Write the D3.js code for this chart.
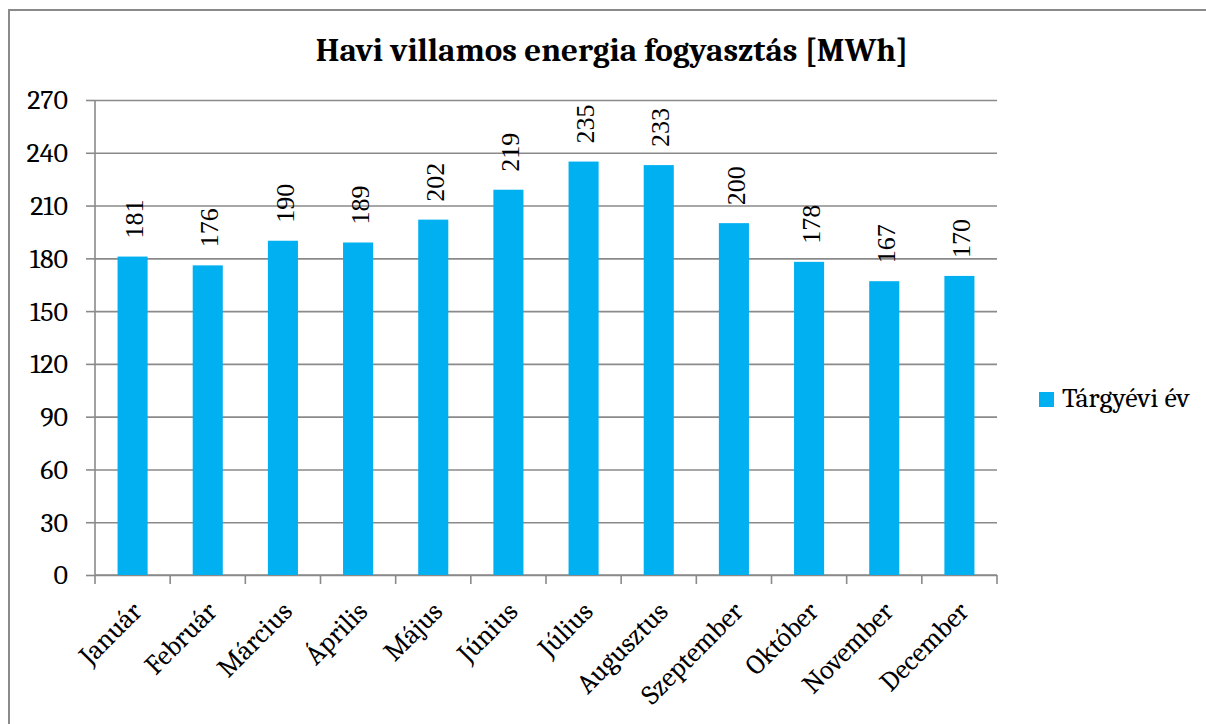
<!DOCTYPE html>
<html>
<head>
<meta charset="utf-8">
<script src="https://cdn.jsdelivr.net/npm/d3@7"></script>
<style>
  body { margin: 0; background: #fff; }
  svg { display: block; }
</style>
</head>
<body>
<div id="chart"></div>
<script>
// Adatok
const months = ["Január", "Február", "Március", "Április", "Május", "Június",
    "Július", "Augusztus", "Szeptember", "Október", "November", "December"];
const consumption = [181, 176, 190, 189, 202, 219, 235, 233, 200, 178, 167, 170];
const yTicks = [0, 30, 60, 90, 120, 150, 180, 210, 240, 270];
const seriesName = "Tárgyévi év";
const chartTitle = "Havi villamos energia fogyasztás [MWh]";

const width = 1206, height = 724;
const margin = {top: 100, right: 209, bottom: 149, left: 95};
const innerWidth = width - margin.left - margin.right;
const innerHeight = height - margin.top - margin.bottom;
const serif = "Cambria, 'Liberation Serif', 'DejaVu Serif', serif";
const gridColor = "#8a8a8a";

const svg = d3.select("#chart")
    .append("svg")
    .attr("width", width)
    .attr("height", height);

// keret
svg.append("rect")
    .attr("x", 9).attr("y", 10)
    .attr("width", width + 10).attr("height", height + 10)
    .attr("fill", "none")
    .attr("stroke", gridColor)
    .attr("stroke-width", 2);

svg.append("text")
    .attr("x", 612).attr("y", 61)
    .attr("text-anchor", "middle")
    .style("font-family", serif)
    .style("font-weight", "bold")
    .style("font-size", "33px")
    .attr("fill", "#000")
    .text(chartTitle);

const g = svg.append("g")
    .attr("transform", `translate(${margin.left},${margin.top})`);

const x = d3.scaleBand().domain(months).range([0, innerWidth]).paddingInner(0.6).paddingOuter(0.3);
const y = d3.scaleLinear().domain([0, 270]).range([innerHeight, 0]);

// rácsvonalak
g.append("g")
    .call(d3.axisLeft(y).tickValues(yTicks).tickSize(-innerWidth).tickFormat(""))
    .call(a => a.select(".domain").remove())
    .call(a => a.selectAll("line").attr("stroke", gridColor).attr("stroke-width", 1.6));

// y tengely
const yAxis = g.append("g")
    .call(d3.axisLeft(y).tickValues(yTicks).tickSize(9).tickPadding(18));
yAxis.select(".domain").attr("stroke", gridColor).attr("stroke-width", 1.6).attr("d", `M0,0V${innerHeight}`);
yAxis.selectAll("line").attr("stroke", gridColor).attr("stroke-width", 1.6);
yAxis.selectAll("text")
    .style("font-family", serif)
    .style("font-size", "28px")
    .attr("fill", "#000");

// x tengely
const xAxis = g.append("g")
    .attr("transform", `translate(0,${innerHeight})`)
    .call(d3.axisBottom(x).tickSize(0).tickPadding(0));
xAxis.select(".domain").attr("stroke", gridColor).attr("stroke-width", 1.6).attr("d", `M0,0H${innerWidth}`);
xAxis.selectAll(".tick text")
    .style("font-family", serif)
    .style("font-size", "27.5px")
    .attr("fill", "#000")
    .attr("text-anchor", "end")
    .attr("dy", 0)
    .attr("transform", "translate(11,38) rotate(-45)");

// kategória elválasztó osztások
const step = x.step();
const x0 = x(months[0]) - step * x.paddingOuter();
g.append("g")
    .selectAll("line")
    .data(d3.range(months.length + 1))
    .join("line")
    .attr("x1", i => x0 + i * step)
    .attr("x2", i => x0 + i * step)
    .attr("y1", innerHeight).attr("y2", innerHeight + 9)
    .attr("stroke", gridColor).attr("stroke-width", 1.6);

// oszlopok
g.selectAll("rect.bar")
    .data(consumption)
    .join("rect")
    .attr("class", "bar")
    .attr("x", (d, i) => x(months[i]))
    .attr("y", d => y(d))
    .attr("width", x.bandwidth())
    .attr("height", d => innerHeight - y(d))
    .attr("fill", "#00B0F0");

// értékcímkék
g.selectAll("text.val")
    .data(consumption)
    .join("text")
    .attr("class", "val")
    .attr("transform", (d, i) => `translate(${x(months[i]) + x.bandwidth() / 2 + 1.5},${y(d) - 18}) rotate(-90)`)
    .attr("dy", "0.35em")
    .style("font-family", "'Liberation Serif', 'Times New Roman', serif")
    .style("font-size", "26px")
    .attr("fill", "#000")
    .text(d => d);

// jelmagyarázat
const legend = svg.append("g").attr("transform", "translate(1039,392)");
legend.append("rect").attr("width", 15).attr("height", 15).attr("fill", "#00B0F0");
legend.append("text")
    .attr("x", 23).attr("y", 15)
    .style("font-family", serif)
    .style("font-size", "28px")
    .attr("fill", "#000")
    .text(seriesName);
</script>
</body>
</html>
